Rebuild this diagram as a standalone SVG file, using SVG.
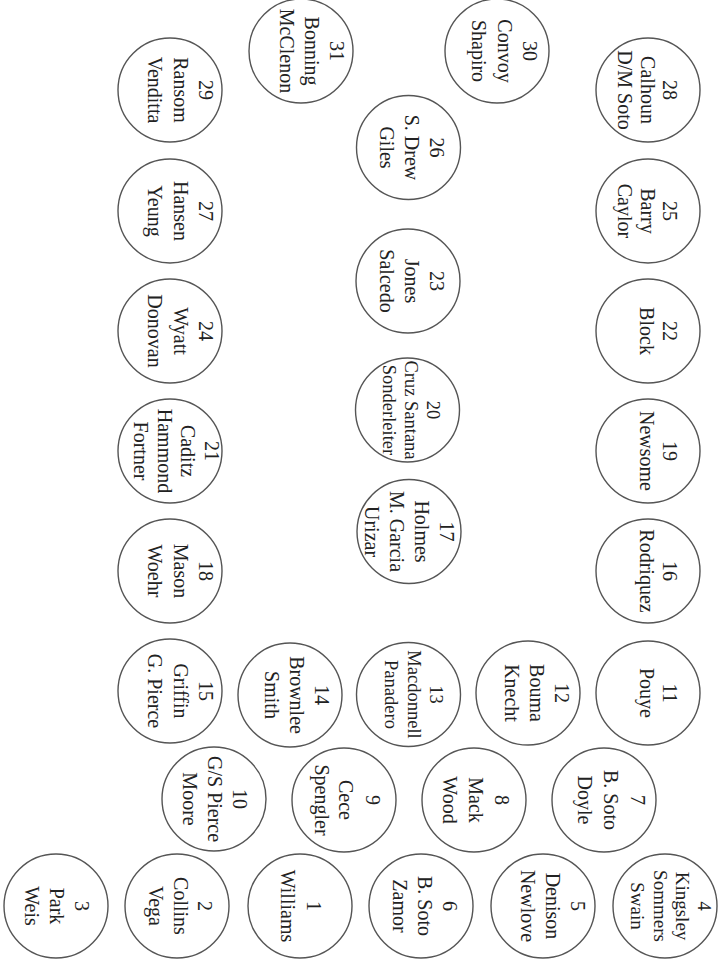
<svg xmlns="http://www.w3.org/2000/svg" width="718" height="968" viewBox="0 0 718 968">
<style>
.t circle{fill:#fff;stroke:#555;stroke-width:1.4}
.t text{font-family:"Liberation Serif","Times New Roman",serif;font-size:20px;fill:#222;text-anchor:middle}
.s text{font-size:18.5px}
.k text{font-size:19px}
</style>
<rect width="718" height="968" fill="#fff"/>
<g id="connectors"/>
<g id="t31" class="t" transform="translate(301,51) rotate(90)"><circle r="52"/><text y="-29">31</text><text y="-3.5">Bonning</text><text y="21.5">McClenon</text></g>
<g id="t30" class="t" transform="translate(497,51) rotate(90)"><circle r="52"/><text y="-26">30</text><text y="-0.5">Convoy</text><text y="25.5">Shapiro</text></g>
<g id="t28" class="t" transform="translate(648,90) rotate(90)"><circle r="52"/><text y="-15">28</text><text y="7.5">Calhoun</text><text y="30">D/M Soto</text></g>
<g id="t29" class="t" transform="translate(170,90) rotate(90)"><circle r="52"/><text y="-29">29</text><text y="-3.5">Ransom</text><text y="22">Venditta</text></g>
<g id="t26" class="t" transform="translate(408.5,147.5) rotate(90)"><circle r="52"/><text y="-21.5">26</text><text y="3.5">S. Drew</text><text y="28.5">Giles</text></g>
<g id="t27" class="t" transform="translate(170,211) rotate(90)"><circle r="52"/><text y="-29">27</text><text y="-3.5">Hansen</text><text y="22">Yeung</text></g>
<g id="t25" class="t" transform="translate(648,211) rotate(90)"><circle r="52"/><text y="-15">25</text><text y="7.5">Barry</text><text y="30">Caylor</text></g>
<g id="t23" class="t" transform="translate(408,281) rotate(90)"><circle r="52"/><text y="-21.5">23</text><text y="3">Jones</text><text y="28.5">Salcedo</text></g>
<g id="t24" class="t" transform="translate(170,331) rotate(90)"><circle r="52"/><text y="-29">24</text><text y="-3.5">Wyatt</text><text y="22">Donovan</text></g>
<g id="t22" class="t" transform="translate(648,331) rotate(90)"><circle r="52"/><text y="-15">22</text><text y="8">Block</text></g>
<g id="t21" class="t" transform="translate(170,451) rotate(90)"><circle r="52"/><text y="-35">21</text><text y="-11">Caditz</text><text y="12.5">Hammond</text><text y="36">Fortner</text></g>
<g id="t20" class="t s" transform="translate(407.5,410) rotate(90)"><circle r="52"/><text y="-19.5">20</text><text y="2.5">Cruz Santana</text><text y="24.5">Sonderleiter</text></g>
<g id="t19" class="t" transform="translate(648,451) rotate(90)"><circle r="52"/><text y="-15">19</text><text y="8">Newsome</text></g>
<g id="t18" class="t" transform="translate(170,571) rotate(90)"><circle r="52"/><text y="-29">18</text><text y="-3.5">Mason</text><text y="22">Woehr</text></g>
<g id="t17" class="t" transform="translate(409,531.5) rotate(90)"><circle r="52"/><text y="-31">17</text><text y="-6">Holmes</text><text y="19">M. Garcia</text><text y="44">Urizar</text></g>
<g id="t16" class="t" transform="translate(648,571) rotate(90)"><circle r="52"/><text y="-15">16</text><text y="8">Rodriquez</text></g>
<g id="t15" class="t" transform="translate(170,691) rotate(90)"><circle r="52"/><text y="-29">15</text><text y="-3.5">Griffin</text><text y="22">G. Pierce</text></g>
<g id="t14" class="t" transform="translate(290,695) rotate(90)"><circle r="52"/><text y="-25">14</text><text y="0">Brownlee</text><text y="25">Smith</text></g>
<g id="t13" class="t s" transform="translate(408.5,694.5) rotate(90)"><circle r="52"/><text y="-21.5">13</text><text y="1">Macdonnell</text><text y="23.5">Panadero</text></g>
<g id="t12" class="t" transform="translate(528,693) rotate(90)"><circle r="52"/><text y="-27">12</text><text y="-2">Bouma</text><text y="23">Knecht</text></g>
<g id="t11" class="t" transform="translate(648,693) rotate(90)"><circle r="52"/><text y="-15">11</text><text y="8">Pouye</text></g>
<g id="t10" class="t" transform="translate(214,799) rotate(90)"><circle r="52"/><text y="-19">10</text><text y="6">G/S Pierce</text><text y="31">Moore</text></g>
<g id="t9" class="t" transform="translate(344,800) rotate(90)"><circle r="52"/><text y="-22">9</text><text y="5">Cece</text><text y="29">Spengler</text></g>
<g id="t8" class="t" transform="translate(474,800) rotate(90)"><circle r="52"/><text y="-21">8</text><text y="5">Mack</text><text y="31">Wood</text></g>
<g id="t7" class="t" transform="translate(604,800) rotate(90)"><circle r="52"/><text y="-27">7</text><text y="0">B. Soto</text><text y="26">Doyle</text></g>
<g id="t3" class="t" transform="translate(56,906) rotate(90)"><circle r="52"/><text y="-19">3</text><text y="6">Park</text><text y="31">Weis</text></g>
<g id="t2" class="t" transform="translate(177,906) rotate(90)"><circle r="52"/><text y="-21">2</text><text y="3.5">Collins</text><text y="28">Vega</text></g>
<g id="t1" class="t" transform="translate(300,906) rotate(90)"><circle r="52"/><text y="-7">1</text><text y="19">Williams</text></g>
<g id="t6" class="t" transform="translate(421,906) rotate(90)"><circle r="52"/><text y="-22">6</text><text y="3">B. Soto</text><text y="28">Zamor</text></g>
<g id="t5" class="t" transform="translate(543,906) rotate(90)"><circle r="52"/><text y="-28">5</text><text y="-3">Denison</text><text y="22">Newlove</text></g>
<g id="t4" class="t k" transform="translate(665,906) rotate(90)"><circle r="52"/><text y="-33">4</text><text y="-11">Kingsley</text><text y="11.5">Sommers</text><text y="34">Swain</text></g>
</svg>
